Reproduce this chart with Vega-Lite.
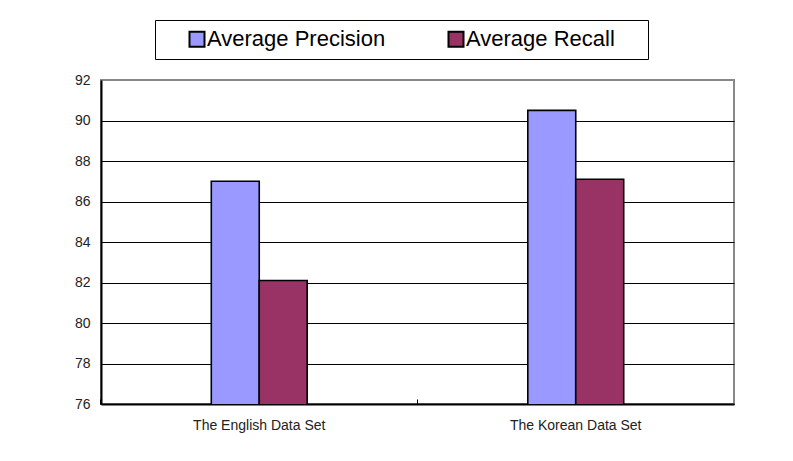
{
  "$schema": "https://vega.github.io/schema/vega-lite/v6.json",
  "width": 633,
  "height": 324,
  "autosize": {"type": "none"},
  "padding": {"left": 101, "top": 80, "right": 59, "bottom": 57},
  "background": "white",
  "data": {"values": [
    {"dataset": "The English Data Set", "measure": "Average Precision", "value": 87.0},
    {"dataset": "The English Data Set", "measure": "Average Recall", "value": 82.1},
    {"dataset": "The Korean Data Set", "measure": "Average Precision", "value": 90.5},
    {"dataset": "The Korean Data Set", "measure": "Average Recall", "value": 87.1}
  ]},
  "mark": {"type": "bar", "stroke": "black", "strokeWidth": 1.6, "clip": true},
  "encoding": {
    "x": {
      "field": "dataset", "type": "nominal",
      "scale": {"paddingInner": 0.697, "paddingOuter": 0.3485},
      "axis": {
        "title": null, "labelAngle": 0, "bandPosition": -1.153,
        "labelFont": "Liberation Sans", "labelFontSize": 14, "labelColor": "#222",
        "labelPadding": 19, "tickSize": -5, "tickColor": "black", "tickWidth": 1,
        "domainColor": "black", "domainWidth": 2, "grid": false
      }
    },
    "xOffset": {"field": "measure", "type": "nominal", "scale": {"paddingInner": 0, "paddingOuter": 0}},
    "y": {
      "field": "value", "type": "quantitative",
      "scale": {"domain": [76, 92], "nice": false, "zero": false},
      "axis": {
        "title": null, "values": [76, 78, 80, 82, 84, 86, 88, 90, 92],
        "labelFont": "Liberation Sans", "labelFontSize": 14, "labelColor": "#222",
        "labelPadding": 11, "ticks": false,
        "domainColor": "black", "domainWidth": 2,
        "grid": true,
        "gridColor": {"condition": {"test": "datum.value == 92", "value": "#888888"}, "value": "black"},
        "gridWidth": 1, "gridOpacity": 1
      }
    },
    "color": {
      "field": "measure", "type": "nominal",
      "scale": {"domain": ["Average Precision", "Average Recall"], "range": ["#9999FF", "#993366"]},
      "legend": {
        "orient": "none", "legendX": 54, "legendY": -60,
        "direction": "horizontal", "title": "W",
        "titleOrient": "right", "titleOpacity": 0, "titleFontSize": 22,
        "titleFont": "Liberation Sans", "titlePadding": 4,
        "strokeColor": "black", "fillColor": "white", "padding": 8,
        "symbolType": "square", "symbolSize": 225,
        "symbolStrokeColor": "black", "symbolStrokeWidth": 2, "symbolOpacity": 1,
        "labelFont": "Liberation Sans", "labelFontSize": 22, "labelColor": "black",
        "labelLimit": 400,
        "labelOffset": -1, "columnPadding": 36, "symbolOffset": 23
      }
    }
  },
  "config": {"view": {"stroke": "#888888", "strokeWidth": 2}}
}
